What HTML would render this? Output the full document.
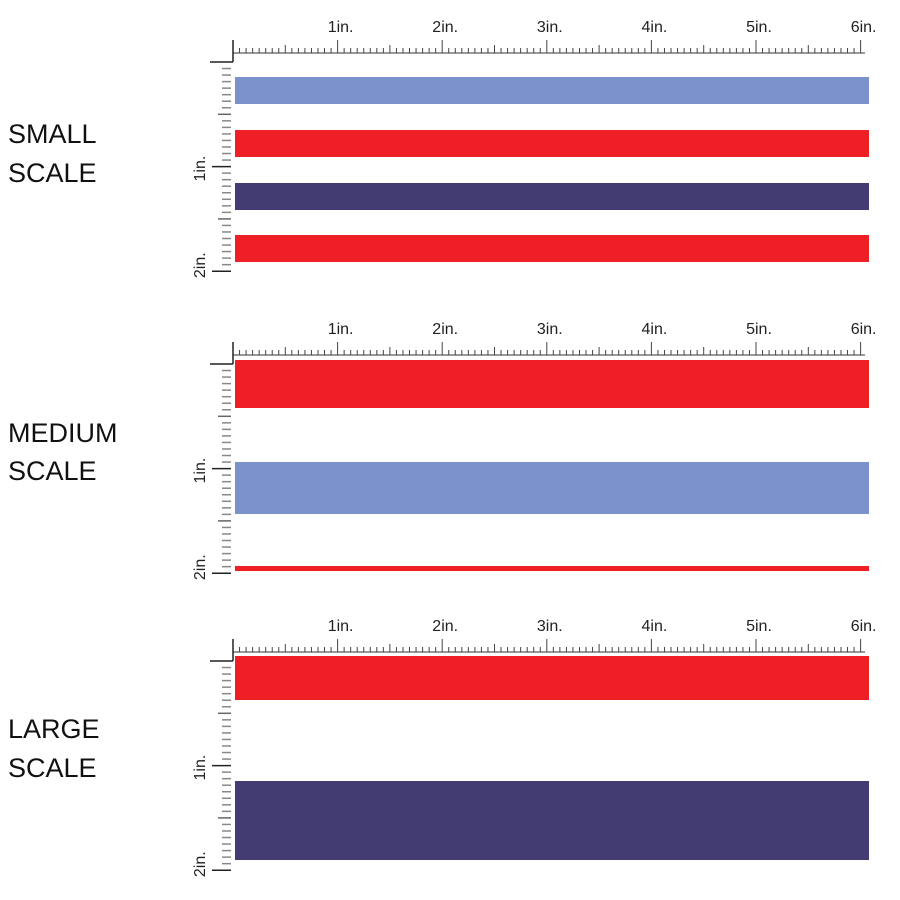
<!DOCTYPE html>
<html><head><style>
body{margin:0;background:#fff;}
svg{display:block;}
</style></head><body>
<svg id="s" width="900" height="900" xmlns="http://www.w3.org/2000/svg" font-family="Liberation Sans, sans-serif">
<g font-size="27" fill="#111">
<text x="8" y="143">SMALL</text><text x="8" y="182">SCALE</text>
<text x="8" y="442">MEDIUM</text><text x="8" y="480">SCALE</text>
<text x="8" y="738">LARGE</text><text x="8" y="777">SCALE</text>
</g>
<rect x="235" y="77" width="634" height="27" fill="#7b92cc"/>
<rect x="235" y="130" width="634" height="27" fill="#ee2025"/>
<rect x="235" y="183" width="634" height="27" fill="#423c72"/>
<rect x="235" y="235" width="634" height="27" fill="#ee2025"/>
<rect x="235" y="360" width="634" height="48" fill="#ee2025"/>
<rect x="235" y="462" width="634" height="52" fill="#7b92cc"/>
<rect x="235" y="566" width="634" height="5" fill="#ee2025"/>
<rect x="235" y="656" width="634" height="44" fill="#ee2025"/>
<rect x="235" y="781" width="634" height="79" fill="#423c72"/>
<g id="r"></g>
</svg>
<script>
var g=document.getElementById('r'),h='';
function L(x1,y1,x2,y2,c,w){h+='<line x1="'+x1+'" y1="'+y1+'" x2="'+x2+'" y2="'+y2+'" stroke="'+c+'" stroke-width="'+(w||1.3)+'"/>';}
function T(x,y,t,rot){h+='<text x="'+x+'" y="'+y+'" font-size="16" fill="#222" text-anchor="middle"'+(rot?' transform="rotate(-90 '+x+' '+y+')"':'')+'>'+t+'</text>';}
[53,355,652].forEach(function(b){
 var u=104.6;
 L(233,b,865,b,'#333',1);
 L(233,b-13,233,b+9,'#222',1.5);
 L(210,b+9,233,b+9,'#222',1.5);
 for(var i=1;i<=96;i++){var x=233+i*u/16;var hh=i%16==0?13:(i%8==0?8:5);L(x,b,x,b-hh,'#444',1);}
 for(var k=1;k<=6;k++)T(233+k*u+3,b-21,k+'in.');
 var y0=b+9;
 for(var j=1;j<=32;j++){var y=y0+j*u/16;if(j%16==0){L(212,y,231,y,'#222',1.5);}else if(j%8==0){L(218,y,231,y,'#666',1.5);}else{L(222,y,231,y,'#888',1.5);}}
 T(205,y0+u+2,'1in.',1);T(205,y0+2*u-6,'2in.',1);
});
g.innerHTML=h;
</script>
</body></html>
